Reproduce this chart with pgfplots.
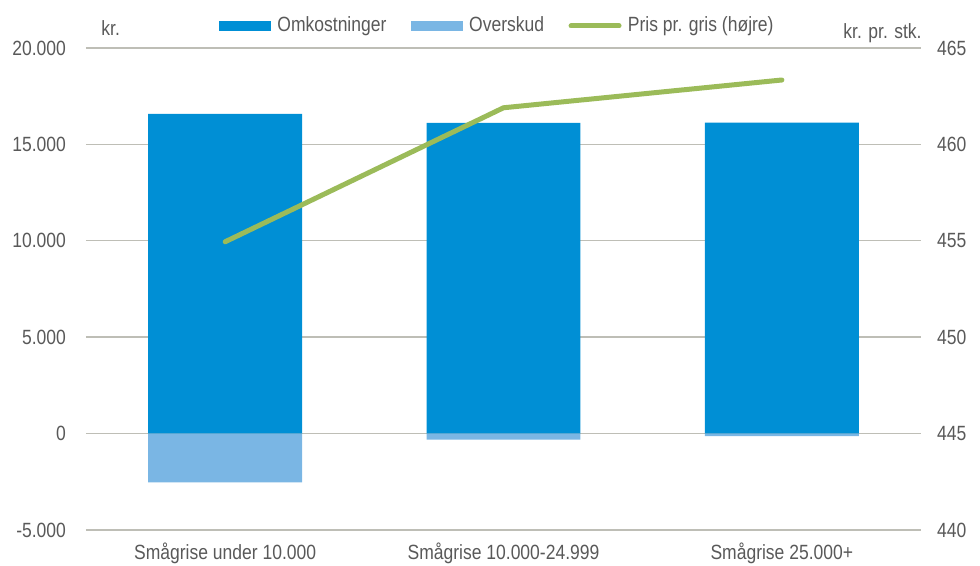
\documentclass[border=0pt]{standalone}
\usepackage{fontspec}
\setmainfont[FakeStretch=0.85]{Liberation Sans}
\usepackage{pgfplots}
\pgfplotsset{compat=1.18}
\definecolor{omk}{HTML}{008FD5}
\definecolor{ovs}{HTML}{7AB6E4}
\definecolor{pris}{HTML}{9BBB59}
\definecolor{gridc}{RGB}{190,190,182}
\definecolor{txt}{HTML}{595959}
\begin{document}
\begin{tikzpicture}[font=\fontsize{10.3bp}{12bp}\selectfont]
\begin{axis}[
  at={(0,0)}, anchor=south west,
  scale only axis, width=417.5bp, height=241bp,
  xmin=-0.5, xmax=2.5, ymin=-5000, ymax=20000,
  ytick={-5000,0,5000,10000,15000,20000},
  scaled y ticks=false,
  xtick={0,1,2},
  xticklabels={Smågrise under 10.000, Smågrise 10.000-24.999, Smågrise 25.000+},
  ymajorgrids, grid style={gridc, line width=0.7bp},
  axis line style={draw=none}, major tick length=0pt,
  axis x line*=bottom, axis y line*=left,
  yticklabel style={txt, xshift=-6.5bp},
  xticklabel style={txt, yshift=-3bp},
  /pgf/number format/.cd, 1000 sep={.}, assume math mode=true,
  /pgfplots/.cd,
  legend style={at={(0.5,1)}, anchor=center, xshift=-3bp, yshift=11bp, draw=none, fill=none,
    legend columns=3, nodes={inner sep=1.2bp, text=txt},
    /tikz/every odd column/.append style={column sep=2bp},
    /tikz/every even column/.append style={column sep=11bp}},
  legend cell align=left,
]
\addplot[ybar, bar width=0.553, bar shift=0pt, fill=omk, draw=none,
  legend image code/.code={\fill[omk] (0bp,-2.5bp) rectangle (26bp,2.5bp);}]
  coordinates {(0,16577) (1,16110) (2,16131)};
\addlegendentry{Omkostninger}
\addplot[ybar, bar width=0.553, bar shift=0pt, fill=ovs, draw=none,
  legend image code/.code={\fill[ovs] (0bp,-2.5bp) rectangle (26bp,2.5bp);}]
  coordinates {(0,-2525) (1,-311) (2,-125)};
\addlegendentry{Overskud}
\addlegendimage{legend image code/.code={\draw[pris, line width=2.5bp, line cap=round] (1bp,0bp) -- (25bp,0bp);}}
\addlegendentry{Pris pr. gris (højre)}
\end{axis}
\begin{axis}[
  at={(0,0)}, anchor=south west,
  scale only axis, width=417.5bp, height=241bp,
  xmin=-0.5, xmax=2.5, ymin=440, ymax=465,
  ytick={440,445,450,455,460,465},
  axis y line*=right, axis x line=none,
  axis line style={draw=none}, major tick length=0pt,
  yticklabel style={txt, xshift=4.5bp},
  /pgf/number format/.cd, assume math mode=true,
]
\addplot[pris, line width=2.5bp, line cap=round, line join=round]
  coordinates {(0,454.95) (1,461.9) (2,463.34)};
\end{axis}
\node[txt, anchor=west, inner sep=0pt] at (7.5bp,250.75bp) {kr.};
\node[txt, anchor=east, inner sep=0pt] at (418bp,248.25bp) {kr. pr. stk.};
\pgfresetboundingbox
\useasboundingbox (-43bp,-18bp) rectangle (447bp,265bp);
\end{tikzpicture}
\end{document}
